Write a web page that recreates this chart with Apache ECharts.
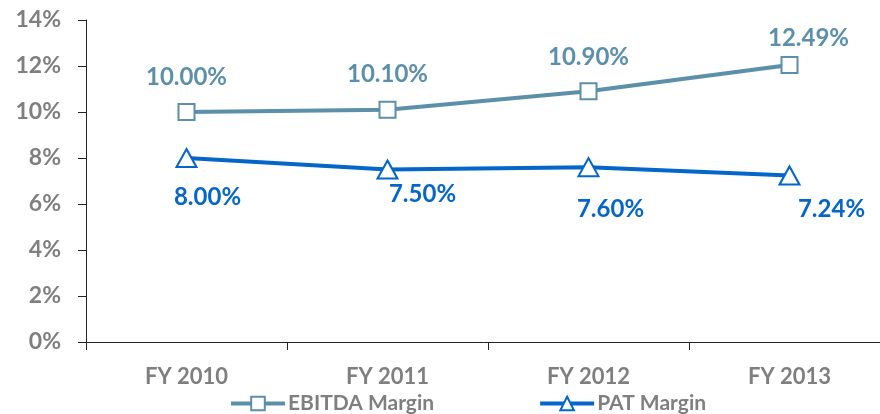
<!DOCTYPE html>
<html>
<head>
<meta charset="utf-8">
<script src="https://cdn.jsdelivr.net/npm/echarts@6/dist/echarts.min.js"></script>
<style>
  html, body { margin: 0; padding: 0; background: #fff; }
  #chart { width: 880px; height: 414px; }
</style>
</head>
<body>
<div id="chart"></div>
<script>
// 数据
const years = ["FY 2010", "FY 2011", "FY 2012", "FY 2013"];
const ebitdaMargin = [10.0, 10.1, 10.9, 12.04]; // 图上点的位置
const ebitdaLabels = ["10.00%", "10.10%", "10.90%", "12.49%"]; // 图上标注的文字
const patMargin = [8.0, 7.5, 7.6, 7.24];
const patLabels = ["8.00%", "7.50%", "7.60%", "7.24%"];

const ebitdaColor = "#5B8FAA";
const patColor = "#0466C8";
const grayText = "#7F7F7F";
const font = "Lato";

// 标签偏移 (x, y)
const ebitdaLabelOffset = [[0, -35], [0, -35], [0, -34], [19, -27]];
const patLabelOffset = [[21, 39], [35, 25], [22, 42], [42, 34]];

const chart = echarts.init(document.getElementById("chart"));

function buildData(values, labels, offsets) {
  return values.map((v, i) => ({
    value: v,
    labelText: labels[i],
    label: { offset: offsets[i] },
  }));
}

const option = {
  animation: false,
  textStyle: { fontFamily: font },
  grid: { left: 86, top: 20, width: 804, height: 322, outerBoundsMode: "none" },
  legend: {
    left: 229,
    top: 393,
    padding: 0,
    itemWidth: 54,
    itemHeight: 17,
    itemGap: 104,
    lineStyle: { width: 4 },
    textStyle: {
      color: grayText,
      fontSize: 21,
      fontWeight: "bold",
      fontFamily: font,
      padding: [0, 0, 0, -2],
    },
    data: ["EBITDA Margin", "PAT Margin"],
  },
  xAxis: {
    type: "category",
    data: years,
    boundaryGap: true,
    axisLine: { lineStyle: { color: "#222", width: 1 } },
    axisTick: { show: true, length: 8, lineStyle: { color: "#222" } },
    axisLabel: {
      color: grayText,
      fontSize: 22,
      fontWeight: "bold",
      margin: 24,
      fontFamily: font,
    },
  },
  yAxis: {
    type: "value",
    min: 0,
    max: 14,
    interval: 2,
    axisLine: { show: true, lineStyle: { color: "#222", width: 1 } },
    axisTick: { show: true, length: 8, lineStyle: { color: "#222" } },
    splitLine: { show: false },
    axisLabel: {
      color: grayText,
      fontSize: 23,
      fontWeight: "bold",
      margin: 25,
      fontFamily: font,
      formatter: "{value}%",
    },
  },
  series: [
    {
      name: "EBITDA Margin",
      type: "line",
      data: buildData(ebitdaMargin, ebitdaLabels, ebitdaLabelOffset),
      symbol: "rect",
      symbolSize: 16,
      lineStyle: { color: ebitdaColor, width: 4 },
      itemStyle: { color: "#fff", borderColor: ebitdaColor, borderWidth: 2 },
      label: {
        show: true,
        position: "inside",
        color: ebitdaColor,
        fontSize: 24,
        fontWeight: "bold",
        fontFamily: font,
        formatter: (p) => p.data.labelText,
      },
    },
    {
      name: "PAT Margin",
      type: "line",
      data: buildData(patMargin, patLabels, patLabelOffset),
      symbol: "triangle",
      symbolSize: [20, 18],
      lineStyle: { color: patColor, width: 4 },
      itemStyle: { color: "#fff", borderColor: patColor, borderWidth: 2 },
      label: {
        show: true,
        position: "inside",
        color: patColor,
        fontSize: 24,
        fontWeight: "bold",
        fontFamily: font,
        formatter: (p) => p.data.labelText,
      },
    },
  ],
};

chart.setOption(option);
</script>
</body>
</html>
